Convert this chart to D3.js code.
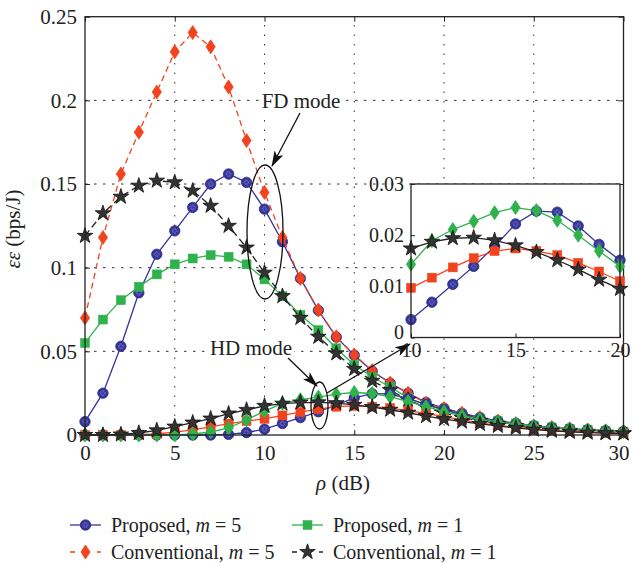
<!DOCTYPE html>
<html>
<head>
<meta charset="utf-8">
<script src="https://cdn.jsdelivr.net/npm/d3@7"></script>
<style>
  body { margin: 0; background: #fff; }
  svg, svg text { font-family: "Times New Roman", "Liberation Serif", "DejaVu Serif", serif !important; }
  text { fill: #222; }
</style>
</head>
<body>
<div id="chart"></div>
<script>
// x values (dB)
var rho = [0,1,2,3,4,5,6,7,8,9,10,11,12,13,14,15,16,17,18,19,20,21,22,23,24,25,26,27,28,29,30];

// FD mode curves
var fdPropM5 = [0.008,0.025,0.053,0.085,0.108,0.122,0.136,0.150,0.156,0.151,0.135,0.1155,0.0936,0.0745,0.0585,0.0477,0.0382,0.031,0.025,0.0195,0.016,0.013,0.0105,0.0085,0.007,0.0056,0.0046,0.0038,0.0031,0.0025,0.0021];
var fdConvM5 = [0.070,0.118,0.156,0.181,0.205,0.229,0.2405,0.232,0.208,0.176,0.145,0.118,0.0936,0.0747,0.0587,0.0478,0.0385,0.031,0.0249,0.019,0.0158,0.013,0.0104,0.0084,0.0068,0.0055,0.0045,0.0037,0.003,0.0024,0.002];
var fdPropM1 = [0.055,0.069,0.0806,0.0886,0.096,0.102,0.1055,0.1075,0.1065,0.102,0.093,0.083,0.0717,0.0627,0.0518,0.0418,0.0348,0.0287,0.0222,0.018,0.015,0.0122,0.0098,0.0082,0.0068,0.0055,0.0045,0.0037,0.003,0.0025,0.002];
var fdConvM1 = [0.119,0.1325,0.1424,0.149,0.152,0.151,0.146,0.137,0.125,0.112,0.097,0.083,0.070,0.0587,0.0488,0.0395,0.0324,0.0268,0.0209,0.0165,0.013,0.0104,0.0085,0.0068,0.0054,0.0042,0.0032,0.0025,0.0019,0.0014,0.0011];

// HD mode curves
var hdBlue  = [0,0,0,0,0,0,0,0,0.0004,0.0015,0.0035,0.0069,0.0104,0.0139,0.0178,0.0222,0.0247,0.0245,0.0218,0.0182,0.0151,0.0122,0.0098,0.0079,0.0064,0.0052,0.0043,0.0035,0.0029,0.0024,0.002];
var hdRed   = [0,0,0,0.0002,0.0006,0.0017,0.003,0.0048,0.0068,0.0083,0.0097,0.0117,0.0137,0.0155,0.0169,0.0174,0.0169,0.0161,0.0146,0.0129,0.011,0.009,0.0072,0.0058,0.0046,0.0036,0.0028,0.0022,0.0017,0.0013,0.001];
var hdGreen = [0,0,0,0,0,0,0.0006,0.0018,0.0042,0.009,0.0143,0.0189,0.0211,0.0227,0.0244,0.0254,0.0248,0.0229,0.02,0.0169,0.0139,0.0115,0.0094,0.0078,0.0064,0.0052,0.0043,0.0036,0.003,0.0025,0.0021];
var hdBlack = [0,0,0.0003,0.0012,0.0028,0.005,0.0074,0.0098,0.0128,0.015,0.0174,0.0187,0.0194,0.0195,0.019,0.018,0.0167,0.0151,0.0133,0.0113,0.0095,0.008,0.0066,0.0054,0.0042,0.0032,0.0025,0.0019,0.0014,0.0011,0.0009];

// tick labels
var xTicks = [0,5,10,15,20,25,30];
var yTicks = [0,0.05,0.1,0.15,0.2,0.25];
var xTicksInset = [10,15,20];
var yTicksInset = [0,0.01,0.02,0.03];

var legendLabels = ["Proposed, ", "Conventional, ", "Proposed, ", "Conventional, "];
var legendM = ["5", "5", "1", "1"];

var BLUE = "#35359b", RED = "#f2431f", GREEN = "#2fb24b", BLACK = "#222";
var FONT = "'Times New Roman', 'Liberation Serif', 'DejaVu Serif', serif";

var svg = d3.select("#chart").append("svg")
    .attr("width", 632).attr("height", 563)
    .attr("font-family", FONT);

var x = d3.scaleLinear().domain([0, 30]).range([85, 623.5]);
var y = d3.scaleLinear().domain([0, 0.25]).range([435, 16.7]);
var xi = d3.scaleLinear().domain([10, 20]).range([411, 620]);
var yi = d3.scaleLinear().domain([0, 0.03]).range([337.5, 184]);

// marker shapes
var diamondPath = "M0,-7L4.6,0L0,7L-4.6,0Z";
function drawMarker(g, shape, color) {
  if (shape == "circle") {
    g.append("circle").attr("r", 5.2).attr("fill", color).attr("stroke", "#2a2a80").attr("stroke-width", 0.8);
    g.append("path").attr("d", d3.symbol().type(d3.symbolCross).size(14)())
      .attr("fill", "none").attr("stroke", "#7777c4").attr("stroke-width", 0.6);
  } else if (shape == "diamond") {
    g.append("path").attr("d", diamondPath).attr("fill", color).attr("stroke", color).attr("stroke-width", 0.8);
  } else if (shape == "square") {
    g.append("rect").attr("x", -4.5).attr("y", -4.5).attr("width", 9).attr("height", 9)
      .attr("fill", color).attr("stroke", color).attr("stroke-width", 0.5);
  } else if (shape == "star") {
    g.append("path").attr("d", d3.symbol().type(d3.symbolStar).size(75)())
      .attr("fill", "#333").attr("stroke", "#111").attr("stroke-width", 0.8);
  }
}

function drawSeries(layer, xs, ys, vals, color, shape, dash) {
  var pts = vals.map(function(v, i) { return {x: rho[i], v: v}; })
      .filter(function(d) { return d.x >= xs.domain()[0] && d.x <= xs.domain()[1]; });
  var lineFor = d3.line().x(function(d) { return xs(d.x); }).y(function(d) { return ys(d.v); });
  layer.append("path")
    .datum(pts)
    .attr("d", lineFor)
    .attr("fill", "none")
    .attr("stroke", color)
    .attr("stroke-width", 1.3)
    .attr("stroke-dasharray", dash || null);
  layer.selectAll(null).data(pts).enter().append("g")
    .attr("transform", function(d) { return "translate(" + xs(d.x) + "," + ys(d.v) + ")"; })
    .each(function() { drawMarker(d3.select(this), shape, color); });
}

// grid
var grid = svg.append("g");
grid.selectAll(null).data([5,10,15,20,25]).enter().append("line")
  .attr("x1", function(d) { return x(d); }).attr("x2", function(d) { return x(d); })
  .attr("y1", y(0)).attr("y2", y(0.25))
  .attr("stroke", "#333").attr("stroke-width", 1).attr("stroke-dasharray", "1.5,8");
grid.selectAll(null).data([0.05,0.1,0.15,0.2]).enter().append("line")
  .attr("x1", x(0)).attr("x2", x(30))
  .attr("y1", function(d) { return y(d); }).attr("y2", function(d) { return y(d); })
  .attr("stroke", "#333").attr("stroke-width", 1).attr("stroke-dasharray", "2.5,6.5");

// axes (inward ticks)
function styleAxis(g, size) {
  g.attr("font-family", FONT);
  g.select(".domain").remove();
  g.selectAll(".tick line").attr("stroke", "#222");
  g.selectAll("text").attr("font-size", size || 21).attr("fill", "#222");
}
var xAxisG = svg.append("g").attr("transform", "translate(0," + y(0) + ")")
  .call(d3.axisBottom(x).tickValues(xTicks).tickSize(-5).tickPadding(10).tickFormat(d3.format("d")))
  .call(styleAxis);
// last label sits at the right edge of the picture
xAxisG.selectAll(".tick text").filter(function(d) { return d === 30; }).attr("dx", -5);
svg.append("g").attr("transform", "translate(" + x(0) + ",0)")
  .call(d3.axisLeft(y).tickValues(yTicks).tickSize(-5).tickPadding(8).tickFormat(function(d) { return d === 0 ? "0" : String(+d.toFixed(2)); }))
  .call(styleAxis);
svg.append("g").attr("transform", "translate(0," + y(0.25) + ")")
  .call(d3.axisTop(x).tickValues(xTicks).tickSize(-5).tickFormat(""))
  .call(styleAxis);
svg.append("g").attr("transform", "translate(" + x(30) + ",0)")
  .call(d3.axisRight(y).tickValues(yTicks).tickSize(-5).tickFormat(""))
  .call(styleAxis);

// main series: FD then HD
var main = svg.append("g");
drawSeries(main, x, y, fdPropM5, BLUE, "circle");
drawSeries(main, x, y, fdConvM5, RED, "diamond", "6,4");
drawSeries(main, x, y, fdPropM1, GREEN, "square");
drawSeries(main, x, y, fdConvM1, BLACK, "star", "7,4");
drawSeries(main, x, y, hdBlue, BLUE, "circle");
drawSeries(main, x, y, hdRed, RED, "square");
drawSeries(main, x, y, hdGreen, GREEN, "diamond");
drawSeries(main, x, y, hdBlack, BLACK, "star");

// frame
svg.append("rect")
  .attr("x", x(0)).attr("y", y(0.25))
  .attr("width", x(30) - x(0)).attr("height", y(0) - y(0.25))
  .attr("fill", "none").attr("stroke", "#222").attr("stroke-width", 1.3);

// annotations
var defs = svg.append("defs");
defs.append("marker").attr("id", "arr")
  .attr("viewBox", "0 0 16 10").attr("refX", 15).attr("refY", 5)
  .attr("markerWidth", 16).attr("markerHeight", 10)
  .attr("markerUnits", "userSpaceOnUse").attr("orient", "auto")
  .append("path").attr("d", "M0,0L16,5L0,10L4,5Z").attr("fill", "#111");

svg.append("rect").attr("x", 260).attr("y", 89).attr("width", 83).attr("height", 24).attr("fill", "#fff");
svg.append("text").attr("x", 301).attr("y", 108).attr("text-anchor", "middle").attr("font-size", 21).text("FD mode");
svg.append("line").attr("x1", 300).attr("y1", 113).attr("x2", 272).attr("y2", 166)
  .attr("stroke", "#111").attr("stroke-width", 1.3).attr("marker-end", "url(#arr)");
svg.append("ellipse").attr("cx", 265).attr("cy", 232).attr("rx", 18).attr("ry", 67)
  .attr("fill", "none").attr("stroke", "#111").attr("stroke-width", 1.3);

svg.append("rect").attr("x", 208).attr("y", 336).attr("width", 86).attr("height", 24).attr("fill", "#fff");
svg.append("text").attr("x", 251).attr("y", 355).attr("text-anchor", "middle").attr("font-size", 21).text("HD mode");
svg.append("line").attr("x1", 288).attr("y1", 358).attr("x2", 317).attr("y2", 386)
  .attr("stroke", "#111").attr("stroke-width", 1.3).attr("marker-end", "url(#arr)");
svg.append("ellipse").attr("cx", 319.5).attr("cy", 405.5).attr("rx", 8.5).attr("ry", 23.5)
  .attr("fill", "none").attr("stroke", "#111").attr("stroke-width", 1.3);
svg.append("line").attr("x1", 327).attr("y1", 393).attr("x2", 410).attr("y2", 344)
  .attr("stroke", "#111").attr("stroke-width", 1.3).attr("marker-end", "url(#arr)");

// inset
var inset = svg.append("g");
inset.append("rect").attr("x", xi(10)).attr("y", yi(0.03))
  .attr("width", xi(20) - xi(10)).attr("height", yi(0) - yi(0.03)).attr("fill", "#fff");
inset.append("g").attr("transform", "translate(0," + yi(0) + ")")
  .call(d3.axisBottom(xi).tickValues(xTicksInset).tickSize(-4).tickPadding(5).tickFormat(d3.format("d")))
  .call(styleAxis, 20);
var iy = inset.append("g").attr("transform", "translate(" + xi(10) + ",0)")
  .call(d3.axisLeft(yi).tickValues(yTicksInset).tickSize(-4).tickPadding(7).tickFormat(function(d) { return d === 0 ? "0" : d.toFixed(2); }))
  .call(styleAxis, 20);
iy.selectAll(".tick text").filter(function(d) { return d === 0; }).attr("y", -5);
drawSeries(inset, xi, yi, hdBlue, BLUE, "circle");
drawSeries(inset, xi, yi, hdRed, RED, "square");
drawSeries(inset, xi, yi, hdGreen, GREEN, "diamond");
drawSeries(inset, xi, yi, hdBlack, BLACK, "star");
inset.append("rect").attr("x", xi(10)).attr("y", yi(0.03))
  .attr("width", xi(20) - xi(10)).attr("height", yi(0) - yi(0.03))
  .attr("fill", "none").attr("stroke", "#222").attr("stroke-width", 1.3);

// axis labels
var xl = svg.append("text").attr("x", 343).attr("y", 490).attr("text-anchor", "middle").attr("font-size", 21);
xl.append("tspan").attr("font-style", "italic").text("ρ");
xl.append("tspan").text(" (dB)");
var yl = svg.append("text").attr("transform", "translate(20,229) rotate(-90)").attr("text-anchor", "middle").attr("font-size", 21);
yl.append("tspan").attr("font-style", "italic").text("εε");
yl.append("tspan").text(" (bps/J)");

// legend
var legendPos = [[70, 525], [70, 552], [292, 525], [292, 552]];
var legendStyle = [[BLUE, "circle", null], [RED, "diamond", "6,5"], [GREEN, "square", null], [BLACK, "star", "6,5"]];
legendLabels.forEach(function(lab, i) {
  var p = legendPos[i], s = legendStyle[i];
  var g = svg.append("g").attr("transform", "translate(" + p[0] + "," + p[1] + ")");
  g.append("line").attr("x1", 0).attr("x2", 31).attr("y1", 0).attr("y2", 0)
    .attr("stroke", s[0]).attr("stroke-width", 1.3).attr("stroke-dasharray", s[2] ? "5,8.5" : null);
  var m = g.append("g").attr("transform", "translate(15.5,0)");
  drawMarker(m, s[1], s[0]);
  var t = g.append("text").attr("x", 41).attr("y", 6.5).attr("font-size", 20);
  t.append("tspan").text(lab);
  t.append("tspan").attr("font-style", "italic").text("m");
  t.append("tspan").text(" = " + legendM[i]);
});
</script>
</body>
</html>
